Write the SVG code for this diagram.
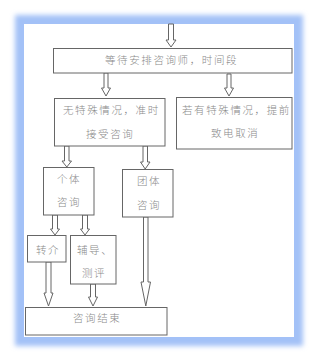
<svg xmlns="http://www.w3.org/2000/svg" width="318" height="361" viewBox="0 0 318 361">
<defs>
<filter id="glow" x="-20%" y="-20%" width="140%" height="140%"><feGaussianBlur stdDeviation="2.5"/></filter>
<style>
.box{fill:#fff;stroke:#666;stroke-width:1}
.arr{fill:#fff;stroke:#666;stroke-width:1;stroke-linejoin:miter}
text{font-family:"Noto Sans CJK SC","Noto Sans",sans-serif;font-size:10.5px;font-weight:300;fill:#8a8a8a;letter-spacing:1.6px}
</style>
</defs>
<rect x="15" y="15" width="288" height="331" fill="#a3c1f7" filter="url(#glow)"/>
<rect x="24" y="24" width="270" height="313" fill="#fff"/>
<g id="connectors">
<path class="arr" d="M168.5,24 V40 H166 L171,47 L176,40 H173.5 V24 Z"/>
<path class="arr" d="M104,73 V88 H101.5 L106,96 L110.5,88 H108 V73 Z"/>
<path class="arr" d="M227,74 V88 H224.5 L229,96 L233.5,88 H231 V74 Z"/>
<path class="arr" d="M64.5,146 V161 H62 L66.8,167 L71.5,161 H69 V146 Z"/>
<path class="arr" d="M143,146 V162 H140.5 L145.2,169 L150,162 H147.5 V146 Z"/>
<path class="arr" d="M52.5,215 V229 H50.5 L55,235 L59.5,229 H57.5 V215 Z"/>
<path class="arr" d="M82.5,215 V229 H80.5 L85,235 L89.5,229 H87.5 V215 Z"/>
<path class="arr" d="M46,262 V293 H44 L48.5,306 L53,293 H51 V262 Z"/>
<path class="arr" d="M90.5,284 V297 H88.5 L93,306 L97.5,297 H95.5 V284 Z"/>
<path class="arr" d="M143.5,217 V282 H141 L145.8,306 L150.5,282 H148 V217 Z"/>
</g>
<g id="n1"><rect class="box" x="53.5" y="48.5" width="238.5" height="24.5"/><text x="105" y="64">等待安排咨询师，时间段</text></g>
<g id="n2"><rect class="box" x="54.5" y="98.5" width="110.5" height="47.5"/><text x="63" y="114">无特殊情况，准时</text><text x="86" y="138">接受咨询</text></g>
<g id="n3"><rect class="box" x="176.5" y="97.5" width="115.5" height="51.5"/><text x="182" y="114">若有特殊情况，提前</text><text x="211" y="137">致电取消</text></g>
<g id="n4"><rect class="box" x="43.5" y="167.5" width="50.5" height="47.5"/><text x="57" y="183">个体</text><text x="57" y="206">咨询</text></g>
<g id="n5"><rect class="box" x="122.5" y="169.5" width="50.5" height="47.5"/><text x="137" y="185">团体</text><text x="137" y="209">咨询</text></g>
<g id="n6"><rect class="box" x="27.5" y="235.5" width="38.5" height="26.5"/><text x="36" y="254">转介</text></g>
<g id="n7"><rect class="box" x="70.5" y="235.5" width="45.5" height="48.5"/><text x="77" y="254">辅导、</text><text x="82" y="277">测评</text></g>
<g id="n8"><rect class="box" x="25.5" y="307.5" width="141.5" height="27.5"/><text x="73" y="322">咨询结束</text></g>
</svg>
